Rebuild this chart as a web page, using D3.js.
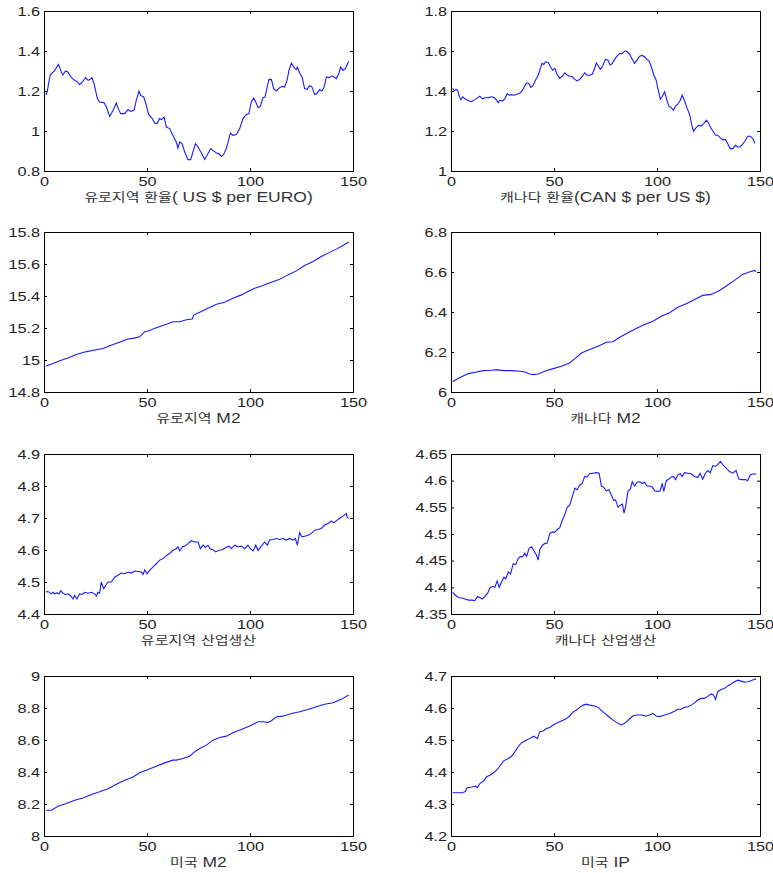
<!DOCTYPE html>
<html>
<head>
<meta charset="utf-8">
<script src="https://cdn.jsdelivr.net/npm/d3@7"></script>
<style>
  body { margin: 0; background: #fff; }
  text { font-family: "Liberation Sans", Arial, "Noto Sans CJK KR", sans-serif; fill: #222; }
</style>
</head>
<body>
<div class="container"></div>
<script>
// [month, value]
let euroFx = [[1,1.18],[1.6,1.2],[3,1.28],[5,1.30],[7,1.333],[8.4,1.295],[9.2,1.28],[10.4,1.30],[11.6,1.295],[13.3,1.267],[14.9,1.253],[16,1.248],[17.3,1.232],[18.6,1.245],[20.2,1.267],[21.4,1.253],[22.2,1.257],[23.3,1.267],[24.3,1.237],[25.9,1.162],[27,1.145],[29.1,1.142],[30.3,1.12],[31.9,1.073],[33.5,1.103],[35.1,1.14],[36.4,1.103],[37.2,1.087],[39.2,1.087],[40.8,1.107],[42.1,1.098],[43.7,1.103],[44.8,1.153],[46.1,1.2],[46.9,1.178],[48.4,1.17],[49.7,1.128],[50.8,1.082],[52.4,1.065],[53.7,1.04],[54.9,1.037],[56.1,1.062],[57,1.057],[58.3,1.07],[59.4,1.02],[61,1.012],[62.6,0.978],[64.2,0.945],[65,0.915],[65.9,0.945],[67,0.937],[68.3,0.895],[69.9,0.857],[71.2,0.857],[72.3,0.895],[73.5,0.937],[74.8,0.92],[76.4,0.89],[78,0.858],[79.1,0.878],[80.9,0.912],[82,0.903],[83.7,0.89],[84.8,0.887],[86.1,0.873],[87.2,0.883],[88.5,0.912],[90.5,0.99],[91.7,0.978],[93.4,0.982],[95,1.012],[96.6,1.062],[98.2,1.083],[99.5,1.087],[100.6,1.145],[101.8,1.165],[102.8,1.145],[103.9,1.117],[105,1.123],[106.3,1.167],[107.3,1.17],[108.3,1.22],[109.2,1.258],[110.4,1.257],[111.5,1.212],[112.8,1.2],[114.4,1.217],[115.7,1.223],[116.8,1.22],[118,1.253],[118.9,1.303],[120.1,1.34],[121.2,1.32],[122.5,1.307],[123,1.32],[124.1,1.29],[125.4,1.267],[126.5,1.212],[127.7,1.208],[129,1.228],[130.1,1.22],[131.4,1.182],[132.5,1.187],[133.8,1.207],[134.9,1.2],[135.9,1.217],[137.1,1.27],[138.3,1.267],[139.5,1.275],[140.8,1.27],[141.9,1.262],[143.2,1.29],[144,1.32],[145.1,1.303],[146.3,1.312],[147.9,1.348]];

let canFx = [[0.8,1.413],[1.6,1.401],[2.4,1.408],[3.2,1.404],[4,1.374],[4.8,1.357],[5.7,1.371],[6.8,1.361],[8.4,1.351],[10,1.347],[11.6,1.357],[12.9,1.367],[14,1.374],[15.3,1.361],[16.5,1.366],[18.1,1.367],[19.7,1.371],[21,1.367],[22.1,1.354],[22.9,1.341],[23.7,1.354],[25,1.349],[26.2,1.362],[27.3,1.387],[28.3,1.379],[29.4,1.382],[30.5,1.379],[31.8,1.384],[33.1,1.387],[34.2,1.396],[35.4,1.418],[36.7,1.441],[37.8,1.438],[38.8,1.418],[39.9,1.429],[41,1.454],[42.3,1.479],[43.4,1.513],[44.2,1.538],[45,1.533],[45.9,1.546],[47.2,1.543],[48.3,1.521],[49.3,1.504],[50.4,1.513],[51.5,1.484],[52.8,1.463],[54.1,1.474],[55.2,1.491],[56.5,1.479],[57.6,1.474],[58.9,1.471],[60.1,1.458],[61.2,1.451],[62.5,1.458],[63.8,1.474],[64.9,1.491],[66,1.479],[67.3,1.479],[68.5,1.484],[69.4,1.504],[70.6,1.541],[71.7,1.521],[72.5,1.508],[73.8,1.529],[74.9,1.558],[76.2,1.554],[77.3,1.529],[78.3,1.538],[79.4,1.558],[80.6,1.574],[81.9,1.588],[82.7,1.585],[83.5,1.591],[84.6,1.601],[85.6,1.596],[86.7,1.583],[87.8,1.563],[89.1,1.538],[90.3,1.554],[91.6,1.574],[92.7,1.578],[94,1.571],[95.1,1.558],[96.1,1.551],[97.2,1.521],[98.5,1.479],[99.6,1.454],[100.4,1.413],[101.6,1.359],[102.5,1.371],[103.7,1.396],[104.8,1.354],[105.8,1.324],[106.9,1.317],[108,1.304],[109,1.324],[110.1,1.334],[111.3,1.354],[112.2,1.379],[113.4,1.351],[114.5,1.317],[115.8,1.284],[116.9,1.229],[117.7,1.199],[119,1.217],[120.3,1.229],[121.4,1.224],[122.6,1.237],[124,1.254],[125,1.24],[126,1.217],[127.1,1.2],[128.4,1.179],[129.5,1.179],[130.6,1.167],[131.9,1.157],[133.2,1.157],[134.3,1.137],[135.5,1.112],[136.8,1.112],[138.1,1.129],[139.2,1.12],[140.3,1.12],[141.6,1.134],[142.7,1.15],[144,1.174],[145.3,1.174],[146.5,1.162],[147.6,1.137]];

let euroM2 = [[1,14.963],[4.4,14.978],[7.6,14.995],[11.7,15.013],[15.7,15.034],[20.2,15.051],[24.6,15.062],[28.6,15.072],[31.9,15.089],[35.9,15.108],[40.8,15.131],[43.2,15.135],[46.4,15.145],[48.1,15.166],[48.9,15.177],[50.5,15.181],[54.5,15.202],[59.4,15.223],[62.6,15.239],[65.9,15.239],[69.1,15.252],[72,15.256],[72.7,15.281],[75.6,15.298],[79.6,15.323],[83.7,15.348],[87.7,15.361],[91.7,15.386],[95.8,15.407],[99,15.428],[102.3,15.449],[106.3,15.465],[110.4,15.486],[114.4,15.505],[118.4,15.532],[122.5,15.557],[126.5,15.591],[130.6,15.616],[134.6,15.647],[137.9,15.668],[141.9,15.693],[145.1,15.716],[147.9,15.737]];

let canM2 = [[0.8,6.053],[4.4,6.073],[8.4,6.092],[12.4,6.1],[15.7,6.107],[19.7,6.109],[22.1,6.112],[25.4,6.107],[29.4,6.107],[33.4,6.104],[35.9,6.1],[38.3,6.09],[39.9,6.087],[42.3,6.09],[45.5,6.104],[49.6,6.117],[53.6,6.129],[57.6,6.145],[60.1,6.167],[63.3,6.195],[67.3,6.212],[71.4,6.229],[75.4,6.249],[78.6,6.251],[81.9,6.274],[85.9,6.296],[89.9,6.317],[94,6.337],[98,6.354],[102,6.379],[106.1,6.396],[110.1,6.424],[114.2,6.441],[118.2,6.463],[122.2,6.483],[126.3,6.488],[130.3,6.508],[133.5,6.529],[137.6,6.558],[141.6,6.588],[144.8,6.6],[147.3,6.608],[148.1,6.601]];

let euroIP = [[1,4.47],[2.4,4.469],[3.6,4.463],[4.4,4.468],[5.2,4.463],[6.3,4.466],[7.3,4.463],[8.1,4.473],[9.2,4.465],[10.4,4.461],[11.7,4.463],[12.8,4.458],[14.1,4.447],[14.9,4.458],[16,4.447],[17.3,4.463],[18.6,4.461],[19.7,4.468],[21.4,4.465],[23,4.468],[24.6,4.463],[25.4,4.456],[26.2,4.468],[27,4.465],[27.8,4.5],[29,4.479],[29.9,4.489],[31.1,4.5],[32.7,4.5],[34.3,4.515],[35.9,4.521],[37.5,4.528],[39.2,4.526],[40.8,4.531],[42.4,4.528],[44,4.534],[45.6,4.533],[47.2,4.531],[48.1,4.524],[48.9,4.538],[50,4.526],[51.3,4.536],[52.9,4.547],[54.5,4.557],[56.1,4.568],[57.8,4.573],[59.4,4.583],[61,4.589],[62.6,4.599],[64.2,4.604],[65,4.61],[65.9,4.597],[67.2,4.61],[68.3,4.612],[69.9,4.62],[71.5,4.629],[73.1,4.625],[74.8,4.625],[75.9,4.604],[77.2,4.615],[78.3,4.608],[79.6,4.615],[80.7,4.604],[82,4.601],[83.3,4.594],[85,4.599],[86.6,4.601],[88.2,4.608],[89.8,4.612],[90.9,4.604],[92.6,4.615],[94.2,4.61],[95.8,4.612],[97.4,4.604],[99,4.615],[100.2,4.604],[101.5,4.597],[102.8,4.615],[103.9,4.599],[105.5,4.612],[107.1,4.625],[108.4,4.615],[109.5,4.631],[111.2,4.633],[112.8,4.636],[114.4,4.633],[116,4.636],[117.6,4.631],[119.3,4.636],[120.9,4.631],[122,4.636],[123,4.615],[124.1,4.654],[125.2,4.641],[126.5,4.643],[128.2,4.646],[129.8,4.652],[131.4,4.662],[133,4.664],[134.6,4.667],[136.2,4.678],[137.9,4.683],[139.5,4.691],[140.6,4.685],[141.9,4.691],[143.5,4.699],[145.1,4.706],[146.8,4.714],[147.2,4.702],[147.9,4.699]];

let canIP = [[0.8,4.391],[1.9,4.386],[3.6,4.381],[5.2,4.38],[6.8,4.378],[8.4,4.376],[10,4.376],[11.6,4.375],[12.8,4.383],[14,4.381],[15.2,4.378],[16.5,4.383],[17.8,4.389],[18.9,4.399],[20.2,4.402],[21.3,4.4],[22.4,4.412],[23.4,4.4],[24.5,4.41],[25.7,4.419],[26.6,4.416],[27.8,4.429],[28.9,4.425],[30.2,4.444],[31.5,4.443],[32.6,4.454],[33.7,4.458],[34.7,4.457],[35.8,4.464],[36.7,4.458],[37.9,4.473],[39.1,4.476],[40.2,4.469],[41.5,4.46],[42.3,4.451],[43.1,4.471],[44.4,4.479],[45.5,4.482],[46.7,4.483],[48,4.501],[49.2,4.504],[50.4,4.503],[51.7,4.509],[52.8,4.512],[54,4.526],[55.2,4.536],[56.4,4.55],[57.6,4.554],[58.9,4.57],[60.1,4.586],[61.2,4.583],[62.5,4.592],[63.6,4.594],[64.9,4.608],[66,4.607],[67.3,4.613],[68.9,4.614],[70.6,4.615],[71.9,4.614],[73,4.59],[74.1,4.588],[75.4,4.581],[76.7,4.583],[77.8,4.573],[79,4.563],[79.9,4.564],[81.1,4.55],[82.2,4.554],[83.2,4.556],[84,4.539],[84.8,4.552],[85.9,4.58],[87,4.584],[88,4.598],[89.1,4.59],[90.3,4.597],[91.6,4.598],[92.8,4.595],[94,4.597],[95.1,4.59],[96.4,4.59],[97.7,4.588],[98.8,4.581],[100.4,4.58],[101.6,4.581],[102.5,4.595],[103.3,4.58],[104.5,4.6],[105.8,4.603],[106.9,4.607],[108,4.608],[109,4.602],[110.1,4.611],[111.3,4.613],[112.2,4.608],[113.4,4.615],[115,4.614],[116.6,4.613],[118.2,4.608],[119.8,4.606],[120.9,4.614],[122.2,4.603],[123.5,4.614],[124.7,4.619],[125.8,4.615],[127.1,4.628],[128.4,4.627],[129.5,4.63],[130.8,4.636],[131.9,4.63],[133.5,4.624],[135.2,4.617],[136.8,4.614],[138.4,4.619],[139.7,4.603],[141.3,4.602],[142.9,4.602],[144,4.6],[145.3,4.611],[147.3,4.613],[148.1,4.612]];

let usM2 = [[1,8.161],[3.6,8.161],[6.8,8.186],[10.8,8.203],[14.9,8.223],[18.9,8.238],[23,8.259],[27,8.276],[31.1,8.296],[35.1,8.324],[39.2,8.349],[43.2,8.369],[46.4,8.395],[50.5,8.415],[54.5,8.436],[58.6,8.457],[62.6,8.474],[64.2,8.474],[67.5,8.484],[70.7,8.499],[73.1,8.526],[75.6,8.547],[78.8,8.568],[82,8.599],[85.3,8.616],[88.5,8.624],[91.7,8.645],[95.8,8.666],[99.8,8.687],[103.9,8.714],[106.3,8.714],[108.7,8.71],[110.4,8.72],[112.8,8.745],[116,8.749],[120.1,8.766],[124.1,8.777],[128.2,8.791],[132.2,8.808],[136.2,8.823],[140.3,8.833],[144.3,8.854],[147.9,8.881]];

let usIP = [[0.8,4.335],[2.7,4.335],[5.2,4.335],[6.8,4.338],[7.9,4.351],[10,4.353],[12.1,4.356],[12.9,4.351],[14,4.364],[15.7,4.371],[17.3,4.385],[18.9,4.39],[20.5,4.397],[22.1,4.406],[23.7,4.418],[25.4,4.434],[27.8,4.442],[29.4,4.449],[31,4.463],[32.6,4.479],[34.2,4.491],[35.8,4.497],[37.5,4.502],[39.1,4.508],[40.2,4.512],[41,4.508],[42,4.505],[43.1,4.526],[44.7,4.528],[46.3,4.536],[48,4.539],[49.6,4.547],[51.2,4.552],[52.8,4.557],[54.4,4.562],[56,4.567],[57.6,4.575],[59.3,4.588],[60.9,4.594],[62.5,4.602],[64.1,4.609],[65.7,4.612],[67.3,4.609],[69.8,4.606],[71.4,4.602],[73.8,4.588],[76.2,4.575],[78.6,4.562],[81.1,4.552],[82.7,4.547],[84.3,4.552],[86.4,4.564],[88.3,4.575],[89.9,4.578],[92.4,4.578],[94.8,4.575],[96.4,4.578],[98,4.583],[99.6,4.575],[101.2,4.573],[103.7,4.578],[106.1,4.583],[108.5,4.59],[110.1,4.596],[111.7,4.596],[113.4,4.602],[115,4.604],[116.6,4.609],[118.2,4.616],[119.8,4.625],[121.4,4.63],[123,4.63],[124.7,4.637],[126.3,4.644],[127.4,4.641],[128.4,4.627],[129.5,4.651],[131.1,4.658],[132.7,4.661],[134.3,4.669],[136,4.675],[137.6,4.682],[139.2,4.687],[140.8,4.684],[142.4,4.681],[144,4.682],[145.6,4.685],[147.3,4.69],[148.1,4.691]];

let xTicks = [0, 50, 100, 150];
let yTicks = [
  [0.8, 1, 1.2, 1.4, 1.6],
  [1, 1.2, 1.4, 1.6, 1.8],
  [14.8, 15, 15.2, 15.4, 15.6, 15.8],
  [6, 6.2, 6.4, 6.6, 6.8],
  [4.4, 4.5, 4.6, 4.7, 4.8, 4.9],
  [4.35, 4.4, 4.45, 4.5, 4.55, 4.6, 4.65],
  [8, 8.2, 8.4, 8.6, 8.8, 9],
  [4.2, 4.3, 4.4, 4.5, 4.6, 4.7]
];
let titles = [
  "유로지역 환율( US $ per EURO)", "캐나다 환율(CAN $ per US $)",
  "유로지역 M2", "캐나다 M2",
  "유로지역 산업생산", "캐나다 산업생산",
  "미국 M2", "미국 IP"
];
let series = [euroFx, canFx, euroM2, canM2, euroIP, canIP, usM2, usIP];

let colX = [44, 451];
let rowY = [11, 232, 454, 676];
let pw = 309, ph = 160;
let sx = 1.25; // text in the picture is stretched sideways

let svg = d3.select('.container')
    .append('svg')
    .attr('width', 773)
    .attr('height', 873)

series.forEach(function(data, i) {
    let ticks = yTicks[i];
    let g = svg.append('g')
        .attr('transform', 'translate(' + colX[i % 2] + ',' + rowY[Math.floor(i / 2)] + ')')

    let x = d3.scaleLinear().domain([0, 150]).range([0, pw])
    let y = d3.scaleLinear().domain([ticks[0], ticks[ticks.length - 1]]).range([ph, 0])
    let fmt = d => String(+d.toFixed(2))

    let bottom = g.append('g')
        .attr('transform', 'translate(0,' + ph + ')')
        .call(d3.axisBottom(x).tickValues(xTicks).tickSize(-3).tickPadding(6).tickFormat(fmt))
    g.append('g')
        .call(d3.axisTop(x).tickValues(xTicks).tickSize(-3).tickFormat(''))
    let left = g.append('g')
        .call(d3.axisLeft(y).tickValues(ticks).tickSize(-3).tickPadding(6).tickFormat(fmt))
    g.append('g')
        .attr('transform', 'translate(' + pw + ',0)')
        .call(d3.axisRight(y).tickValues(ticks).tickSize(-3).tickFormat(''))

    g.selectAll('.domain').attr('stroke', '#000')
    g.selectAll('.tick line').attr('stroke', '#000')
    g.selectAll('.tick text')
        .style('font-size', '13px')
        .style('fill', '#222')
        .attr('transform', 'scale(' + sx + ',1)')
    left.selectAll('.tick text').attr('x', -4 / sx)

    let line = d3.line()
        .x(d => x(d[0]))
        .y(d => y(d[1]))

    g.append('path')
        .attr('d', line(data))
        .attr('fill', 'none')
        .attr('stroke', '#1a1aff')
        .attr('stroke-width', 1.1)

    // hangul runs a little smaller than latin runs
    let label = g.append('text')
        .attr('x', pw / 2 / sx)
        .attr('y', ph + 31)
        .attr('text-anchor', 'middle')
        .attr('transform', 'scale(' + sx + ',1)')
        .style('fill', '#333')
    titles[i].split(/([가-힣]+)/).filter(s => s.length).forEach(function(part) {
        label.append('tspan')
            .style('font-size', /[가-힣]/.test(part) ? '12px' : '14px')
            .text(part)
    })
})
</script>
</body>
</html>
